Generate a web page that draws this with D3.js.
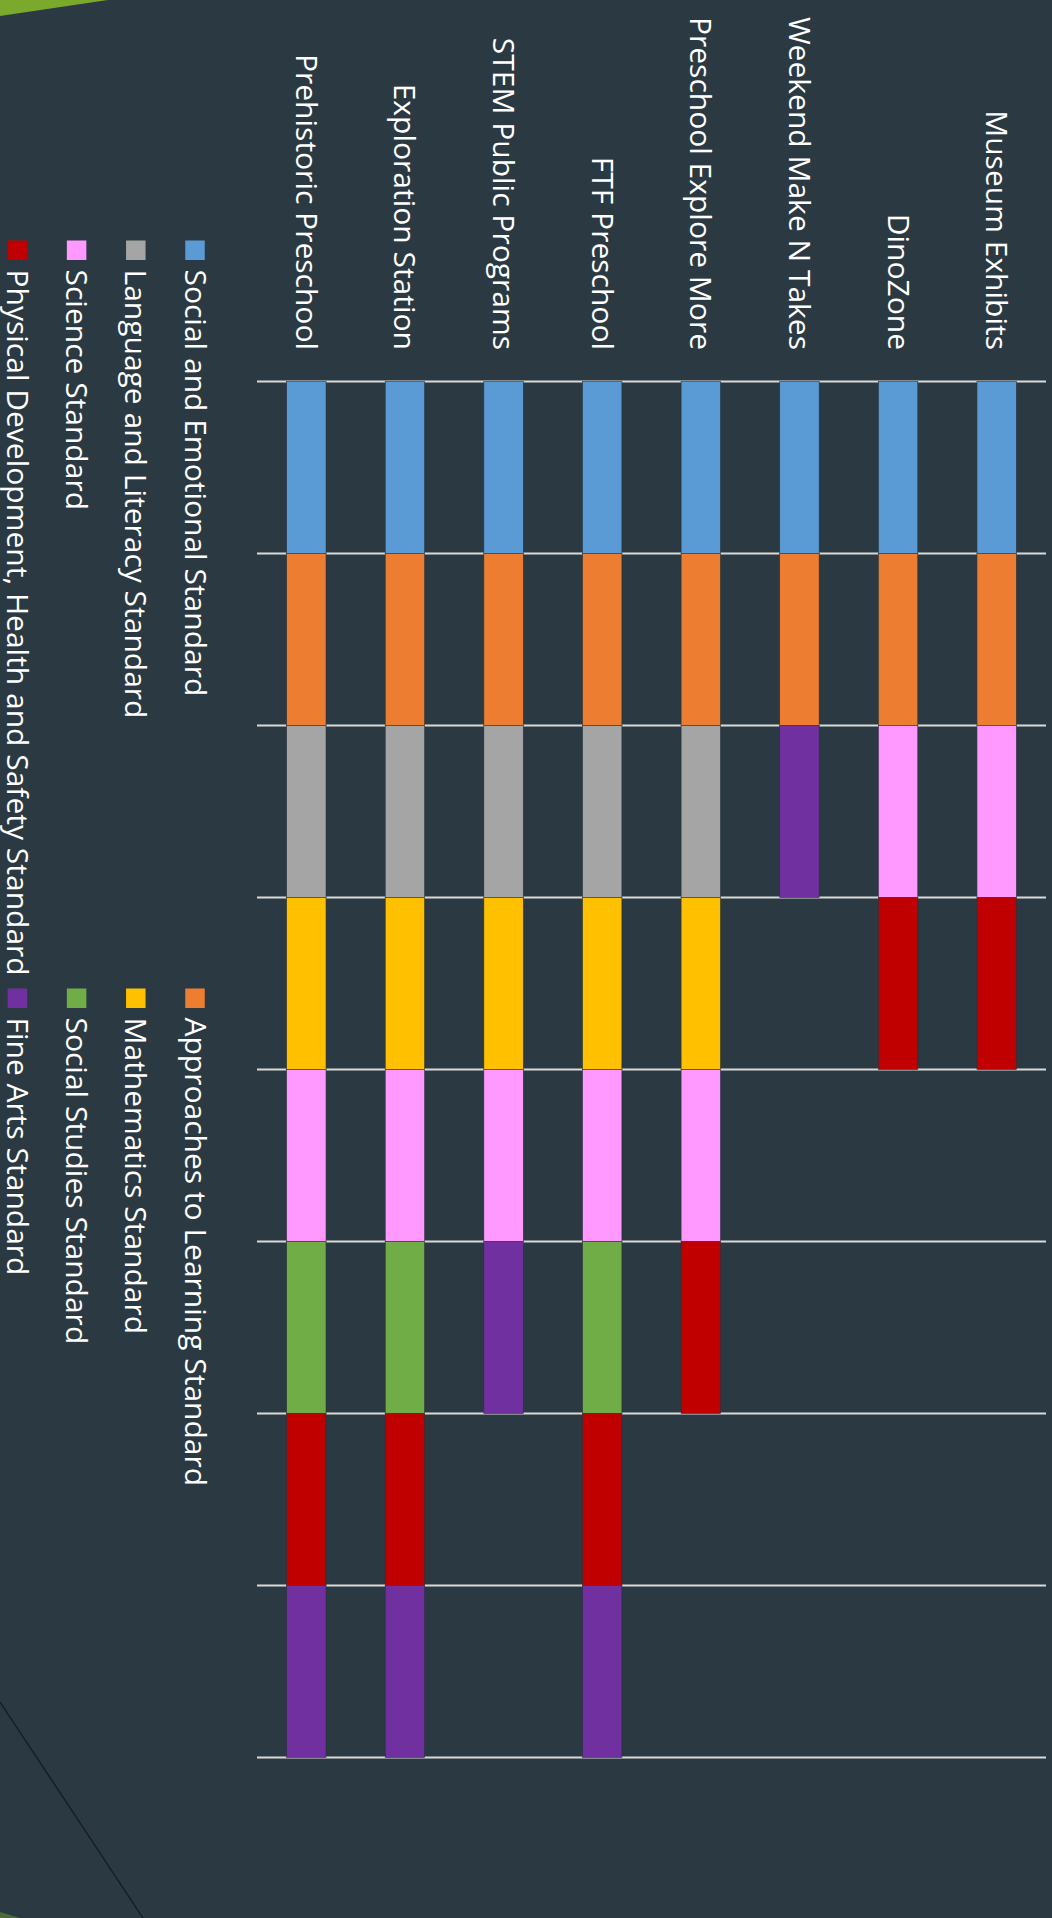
<!DOCTYPE html>
<html>
<head>
<meta charset="utf-8">
<script src="https://d3js.org/d3.v7.min.js"></script>
<style>
  body { margin: 0; background: #2b3a42; }
  svg { display: block; }
</style>
</head>
<body>
<div id="chart"></div>
<script>
// programs, top to bottom in the upright chart
const categories = ["Museum Exhibits", "DinoZone", "Weekend Make N Takes", "Preschool Explore More",
  "FTF Preschool", "STEM Public Programs", "Exploration Station", "Prehistoric Preschool"];

const standards = ["Social and Emotional Standard", "Approaches to Learning Standard",
  "Language and Literacy Standard", "Mathematics Standard", "Science Standard",
  "Social Studies Standard", "Physical Development, Health and Safety Standard", "Fine Arts Standard"];

// one value per program, same order as categories
const socialEmotional = [1, 1, 1, 1, 1, 1, 1, 1];
const approaches      = [1, 1, 1, 1, 1, 1, 1, 1];
const language        = [0, 0, 0, 1, 1, 1, 1, 1];
const mathematics     = [0, 0, 0, 1, 1, 1, 1, 1];
const science         = [1, 1, 0, 1, 1, 1, 1, 1];
const socialStudies   = [0, 0, 0, 0, 1, 0, 1, 1];
const physical        = [1, 1, 0, 1, 1, 0, 1, 1];
const fineArts        = [0, 0, 1, 0, 1, 1, 1, 1];

const gridTicks = [0, 1, 2, 3, 4, 5, 6, 7, 8];

StandardsChart = function(_parentElement, _data) {
  this.parentElement = _parentElement;
  this.data = _data;
  this.initVis();
}

StandardsChart.prototype.initVis = function() {
  this.W = 1052;
  this.H = 1918;
  this.colors = d3.scaleOrdinal()
    .domain(standards)
    .range(["#5b9bd5", "#ed7d31", "#a5a5a5", "#ffc000", "#ff99ff", "#70ad47", "#c00000", "#7030a0"]);

  this.svg = d3.select("#" + this.parentElement).append("svg")
    .attr("width", this.W)
    .attr("height", this.H);

  this.svg.append("rect")
    .attr("width", this.W).attr("height", this.H)
    .attr("fill", "#2b3a42");

  // slide decoration
  this.svg.append("polygon")
    .attr("points", "0,0 108,0 0,16")
    .attr("fill", "#7aa92c");
  this.svg.append("line")
    .attr("x1", 0).attr("y1", 1702).attr("x2", 143).attr("y2", 1918)
    .attr("stroke", "#161b1e").attr("stroke-width", 1.3);
  this.svg.append("polygon")
    .attr("points", "0,1912 20,1918 0,1918")
    .attr("fill", "#4d6b36");

  // the whole chart is turned a quarter clockwise
  this.g = this.svg.append("g")
    .attr("transform", "translate(" + this.W + ",0) rotate(90)");

  this.xScale = d3.scaleLinear()
    .domain([0, 8])
    .range([381.5, 1757.5]);
  this.yScale = d3.scaleBand()
    .domain(categories)
    .range([6, 795])
    .paddingInner(0.6)
    .paddingOuter(0.3);

  this.updateVis();
}

StandardsChart.prototype.updateVis = function() {
  var vis = this;

  vis.g.selectAll(".grid")
    .data(gridTicks)
    .enter().append("line")
    .attr("class", "grid")
    .attr("x1", d => vis.xScale(d)).attr("x2", d => vis.xScale(d))
    .attr("y1", 6).attr("y2", 795)
    .attr("stroke", "#d9d9d9")
    .attr("stroke-width", 1.8);

  var stacked = d3.stack().keys(standards)(vis.data);

  vis.g.selectAll(".series")
    .data(stacked)
    .enter().append("g")
    .attr("class", "series")
    .attr("fill", d => vis.colors(d.key))
    .selectAll("rect")
    .data(d => d.filter(s => s[1] > s[0]))
    .enter().append("rect")
    .attr("x", d => vis.xScale(d[0]))
    .attr("width", d => vis.xScale(d[1]) - vis.xScale(d[0]))
    .attr("y", d => vis.yScale(d.data.program))
    .attr("height", vis.yScale.bandwidth())
    .attr("stroke", "#26333a")
    .attr("stroke-width", 0.6);

  vis.g.selectAll(".cat")
    .data(categories)
    .enter().append("text")
    .attr("class", "cat")
    .attr("x", 350)
    .attr("y", d => vis.yScale(d) + vis.yScale.bandwidth() / 2 + 10.5)
    .attr("text-anchor", "end")
    .attr("font-family", "'Open Sans', sans-serif")
    .attr("font-size", 30)
    .attr("fill", "#ffffff")
    .text(d => d);

  var legend = vis.g.selectAll(".legend")
    .data(standards)
    .enter().append("g")
    .attr("class", "legend")
    .attr("transform", (d, i) => "translate(" + [241, 989][i % 2] + "," + (857 + Math.floor(i / 2) * 59.2) + ")");
  legend.append("rect")
    .attr("x", -0.5).attr("y", -9.75)
    .attr("width", 19.5).attr("height", 19.5)
    .attr("fill", d => vis.colors(d));
  legend.append("text")
    .attr("x", 28.5)
    .attr("y", 10.5)
    .attr("font-family", "'Open Sans', sans-serif")
    .attr("font-size", 30)
    .attr("fill", "#ffffff")
    .text(d => d);
}

var series = [socialEmotional, approaches, language, mathematics, science, socialStudies, physical, fineArts];
var rows = categories.map(function(c, i) {
  var row = {program: c};
  standards.forEach(function(s, j) { row[s] = series[j][i]; });
  return row;
});

new StandardsChart("chart", rows);
</script>
</body>
</html>
